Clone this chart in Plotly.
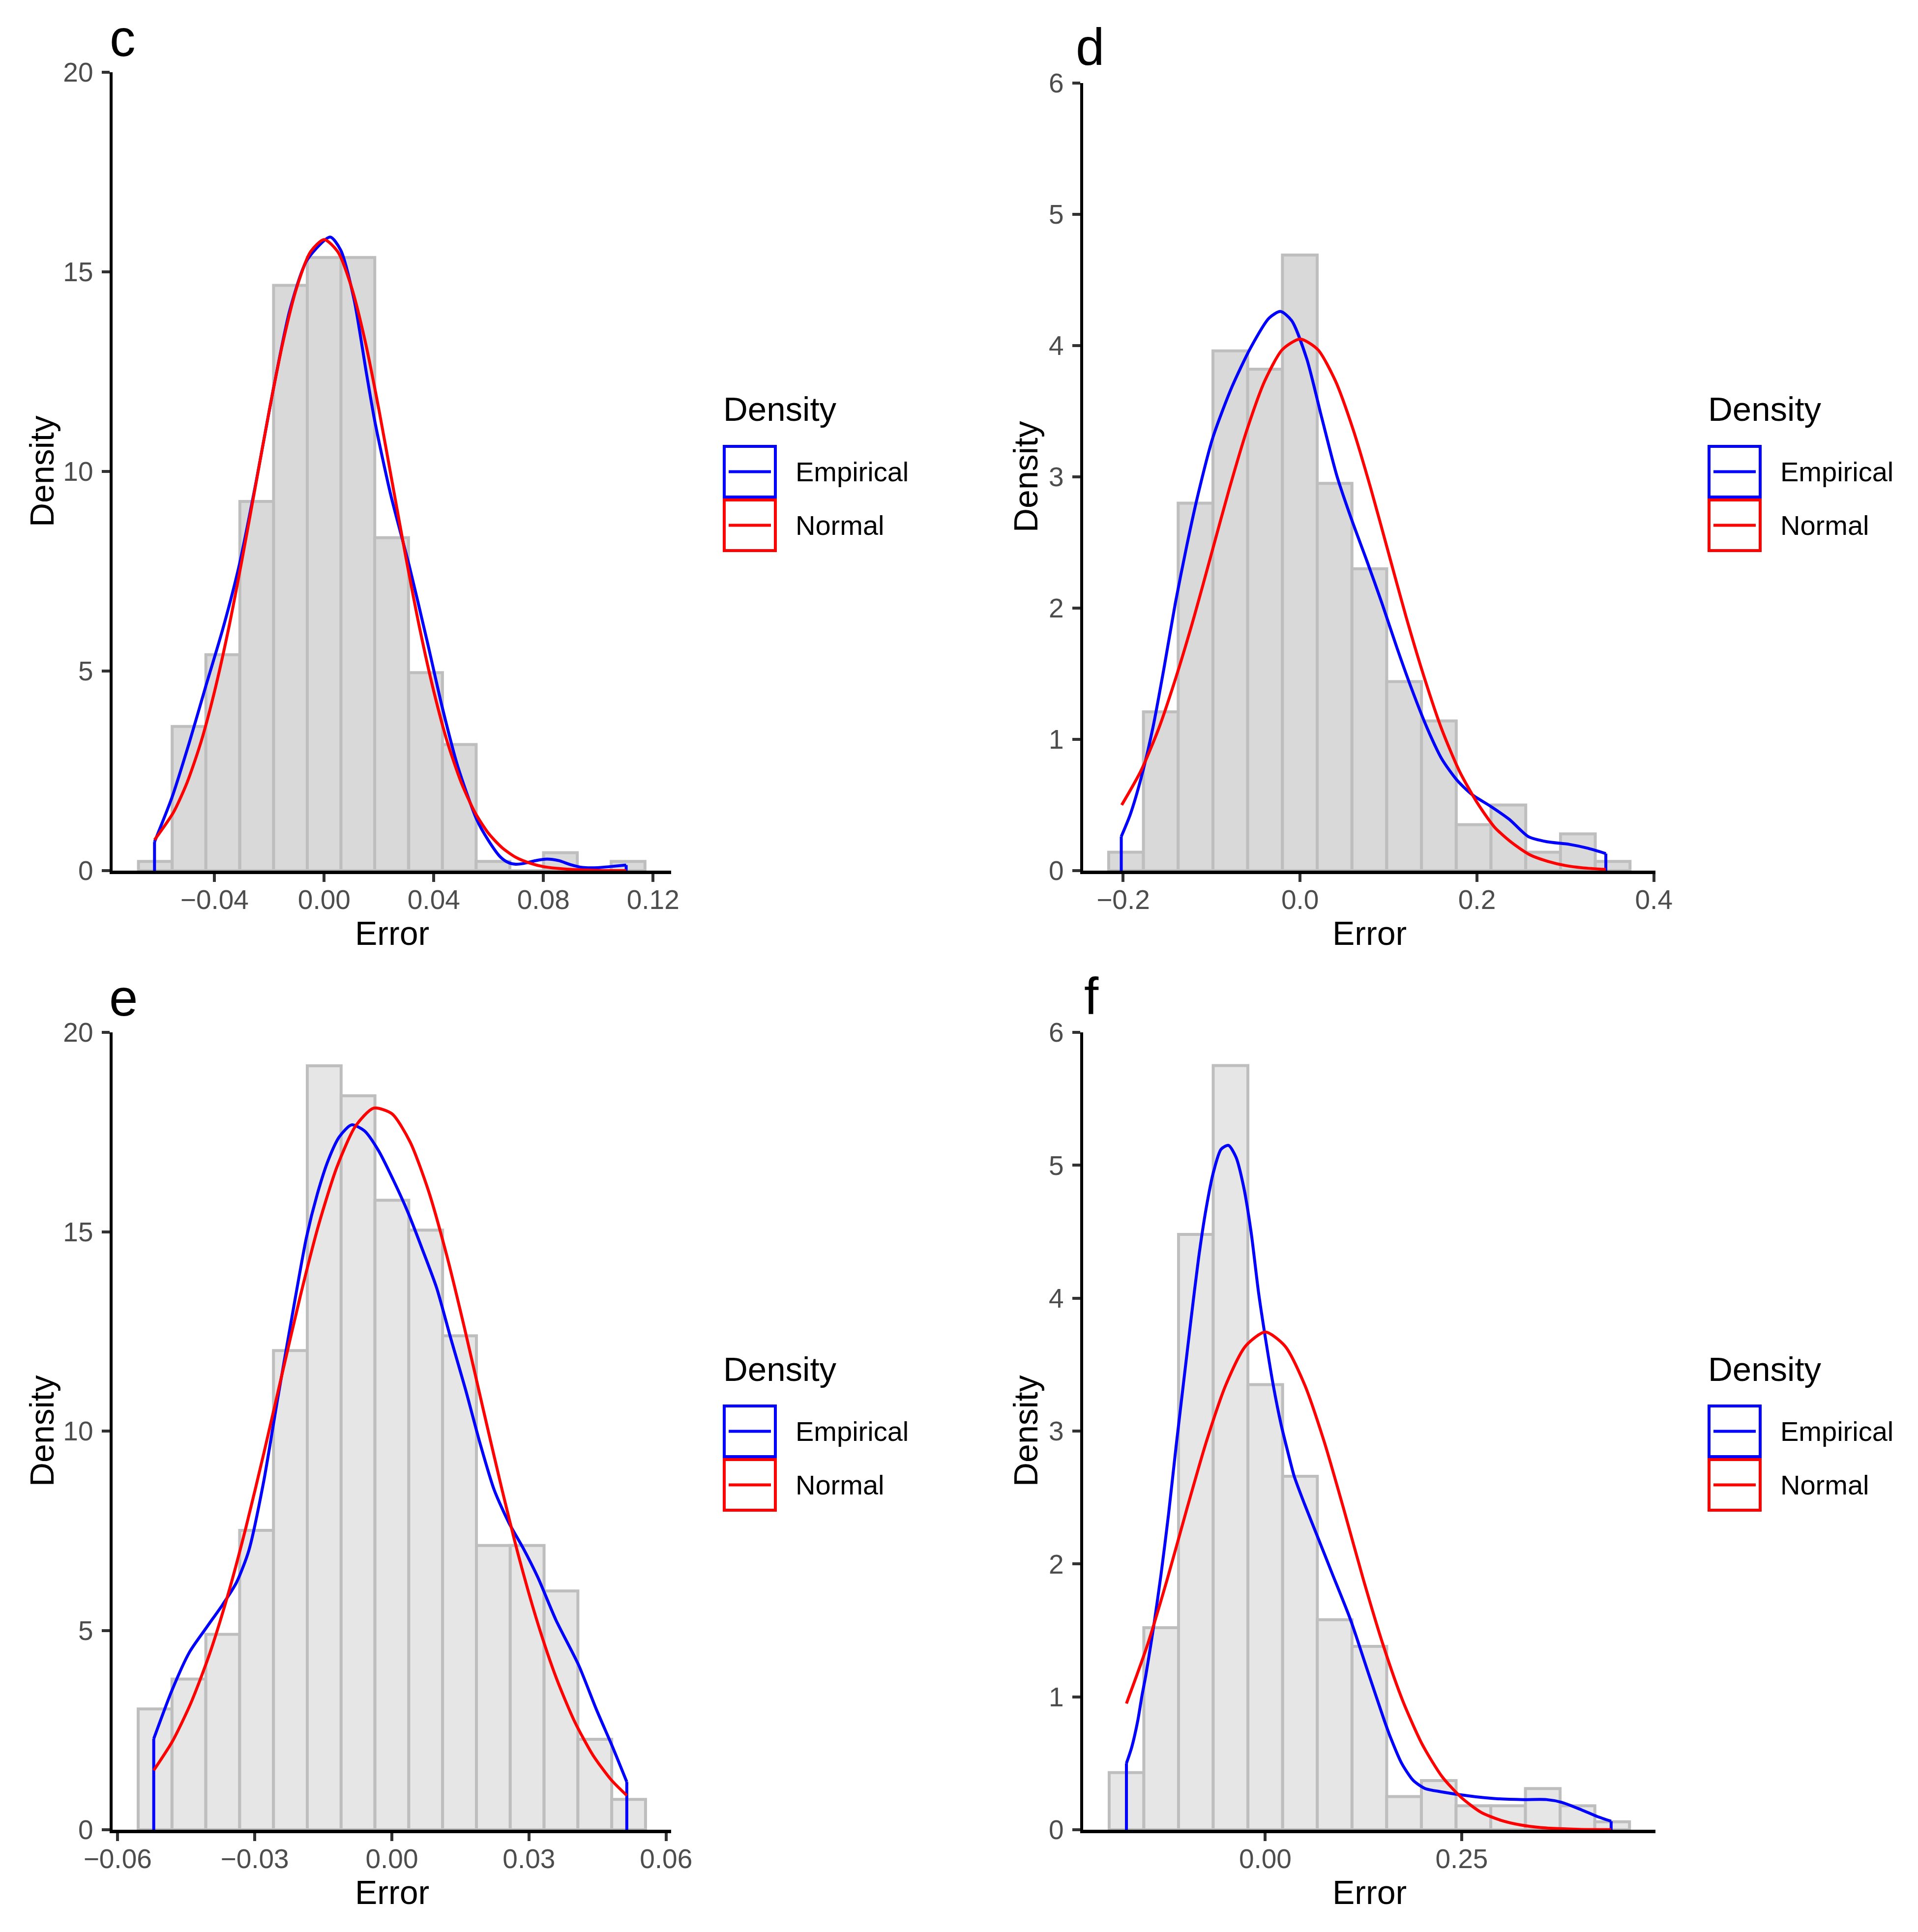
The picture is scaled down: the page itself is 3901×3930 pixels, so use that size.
import plotly.graph_objects as go

W, H = 3901, 3930
FONT = "Liberation Sans, Arial, Helvetica, sans-serif"

# ---------------- data ----------------
# Panel c
c_bin_centers = [-0.0616, -0.0493, -0.0370, -0.0246, -0.0123, 0.0000, 0.0123, 0.0246,
                 0.0370, 0.0493, 0.0616, 0.0739, 0.0862, 0.0986, 0.1109]
c_bin_width = 0.01232
c_density = [0.23, 3.61, 5.41, 9.25, 14.66, 15.36, 15.36, 8.34, 4.96, 3.16, 0.23, 0.0, 0.45, 0.0, 0.23]
c_emp_x = [-0.0619, -0.0555, -0.0492, -0.0432, -0.0370, -0.0310, -0.0247, -0.0187, -0.0125, -0.0062,
           0.0022, 0.0060, 0.0109, 0.0154, 0.0185, 0.0243, 0.0310, 0.0376, 0.0432, 0.0488,
           0.0556, 0.0599, 0.0642, 0.0670, 0.0699, 0.0728, 0.0771, 0.0813, 0.0856, 0.0899, 0.0942,
           0.0999, 0.1042, 0.1102]
c_emp_y = [0.72, 1.84, 3.21, 4.62, 6.05, 7.65, 9.79, 12.01, 14.05, 15.30, 15.87, 15.55, 14.31,
           12.47, 11.25, 9.41, 7.65, 5.74, 4.06, 2.60, 1.29, 0.76, 0.35, 0.21, 0.16, 0.18, 0.25, 0.29,
           0.25, 0.15, 0.08, 0.075, 0.10, 0.14]
c_norm_x = [-0.0619, -0.055, -0.05, -0.045, -0.04, -0.035, -0.03, -0.025, -0.02, -0.015, -0.01, -0.005,
            0.0, 0.005, 0.01, 0.015, 0.02, 0.025, 0.03, 0.035, 0.04, 0.045, 0.05, 0.055, 0.06, 0.065,
            0.07, 0.075, 0.08, 0.09, 0.10, 0.1102]
c_norm_y = [0.77, 1.46, 2.21, 3.21, 4.49, 6.02, 7.78, 9.66, 11.54, 13.25, 14.61, 15.50, 15.81, 15.50,
            14.61, 13.25, 11.54, 9.66, 7.78, 6.02, 4.49, 3.21, 2.21, 1.46, 0.93, 0.57, 0.33, 0.19, 0.10,
            0.03, 0.006, 0.001]
c_xticks = [-0.04, 0.0, 0.04, 0.08, 0.12]
c_xticklabels = ["\u22120.04", "0.00", "0.04", "0.08", "0.12"]
c_yticks = [0, 5, 10, 15, 20]

# Panel d
d_bin_centers = [-0.1968, -0.1575, -0.1182, -0.0789, -0.0396, -0.0003, 0.0390, 0.0783, 0.1176,
                 0.1569, 0.1962, 0.2355, 0.2748, 0.3141, 0.3534]
d_bin_width = 0.0393
d_density = [0.14, 1.21, 2.80, 3.96, 3.82, 4.69, 2.95, 2.30, 1.44, 1.14, 0.35, 0.50, 0.14, 0.28, 0.07]
d_emp_x = [-0.2022, -0.1919, -0.1792, -0.1664, -0.1537, -0.1410, -0.1283, -0.1156, -0.0986, -0.0774,
           -0.0562, -0.0350, -0.0222, -0.0095, 0.0075, 0.0245, 0.0415, 0.0585, 0.0755, 0.0924, 0.1094,
           0.1264, 0.1434, 0.1603, 0.1773, 0.1943, 0.2155, 0.2367, 0.2579, 0.2792, 0.3046, 0.3258, 0.3457]
d_emp_y = [0.26, 0.43, 0.72, 1.09, 1.55, 2.04, 2.47, 2.86, 3.30, 3.68, 3.98, 4.21, 4.26, 4.19, 3.90,
           3.45, 3.01, 2.67, 2.36, 2.04, 1.70, 1.38, 1.09, 0.85, 0.69, 0.58, 0.49, 0.39, 0.26, 0.22,
           0.20, 0.17, 0.13]
d_norm_x = [-0.2017, -0.18, -0.16, -0.14, -0.12, -0.10, -0.08, -0.06, -0.04, -0.02, 0.0, 0.02, 0.04,
            0.06, 0.08, 0.10, 0.12, 0.14, 0.16, 0.18, 0.20, 0.22, 0.24, 0.26, 0.28, 0.30, 0.32, 0.3457]
d_norm_y = [0.50, 0.76, 1.08, 1.48, 1.93, 2.42, 2.91, 3.36, 3.73, 3.97, 4.05, 3.97, 3.73, 3.36, 2.91,
            2.42, 1.93, 1.48, 1.08, 0.76, 0.52, 0.33, 0.21, 0.12, 0.071, 0.039, 0.021, 0.009]
d_xticks = [-0.2, 0.0, 0.2, 0.4]
d_xticklabels = ["\u22120.2", "0.0", "0.2", "0.4"]
d_yticks = [0, 1, 2, 3, 4, 5, 6]

# Panel e
e_bin_centers = [-0.0518, -0.0444, -0.0370, -0.0296, -0.0222, -0.0148, -0.0074, 0.0000, 0.0074,
                 0.0148, 0.0222, 0.0296, 0.0370, 0.0444, 0.0518]
e_bin_width = 0.0074
e_density = [3.03, 3.78, 4.90, 7.51, 12.02, 19.16, 18.41, 15.79, 15.04, 12.39, 7.13, 7.13, 5.99, 2.27, 0.76]
e_emp_x = [-0.0521, -0.0481, -0.0443, -0.0407, -0.0370, -0.0340, -0.0313, -0.0281, -0.0250, -0.0218,
           -0.0187, -0.0163, -0.0139, -0.0115, -0.0088, -0.0060, -0.0029, 0.0003, 0.0035, 0.0066,
           0.0098, 0.0129, 0.0161, 0.0193, 0.0224, 0.0256, 0.0287, 0.0319, 0.0359, 0.0409, 0.0447,
           0.0482, 0.0514]
e_emp_y = [2.28, 3.50, 4.45, 5.05, 5.65, 6.20, 7.00, 8.70, 10.80, 12.90, 14.85, 15.95, 16.80, 17.38,
           17.68, 17.53, 17.03, 16.30, 15.49, 14.58, 13.59, 12.32, 11.05, 9.69, 8.52, 7.70, 7.07, 6.34,
           5.26, 4.12, 3.03, 2.10, 1.20]
e_norm_x = [-0.0521, -0.048, -0.044, -0.040, -0.036, -0.032, -0.028, -0.024, -0.020, -0.016, -0.012,
            -0.008, -0.004, 0.000, 0.004, 0.008, 0.012, 0.016, 0.020, 0.024, 0.028, 0.032, 0.036, 0.040,
            0.044, 0.048, 0.0514]
e_norm_y = [1.49, 2.22, 3.17, 4.37, 5.84, 7.55, 9.45, 11.44, 13.40, 15.18, 16.63, 17.64, 18.10, 17.96,
            17.25, 16.03, 14.41, 12.53, 10.54, 8.58, 6.75, 5.15, 3.80, 2.71, 1.87, 1.25, 0.86]
e_xticks = [-0.06, -0.03, 0.0, 0.03, 0.06]
e_xticklabels = ["\u22120.06", "\u22120.03", "0.00", "0.03", "0.06"]
e_yticks = [0, 5, 10, 15, 20]

# Panel f
f_bin_centers = [-0.1766, -0.1325, -0.0883, -0.0442, 0.0000, 0.0442, 0.0883, 0.1325, 0.1766, 0.2208,
                 0.2649, 0.3091, 0.3532, 0.3974, 0.4415]
f_bin_width = 0.04415
f_density = [0.43, 1.52, 4.48, 5.75, 3.35, 2.66, 1.58, 1.38, 0.25, 0.37, 0.18, 0.18, 0.31, 0.18, 0.06]
f_emp_x = [-0.1767, -0.1700, -0.1623, -0.1572, -0.1518, -0.1423, -0.1327, -0.1232, -0.1136, -0.1041,
           -0.0945, -0.0849, -0.0754, -0.0659, -0.0563, -0.0468, -0.0372, -0.0276, -0.0181, -0.0085,
           0.0010, 0.0106, 0.0201, 0.0297, 0.0368, 0.0500, 0.0669, 0.0850, 0.1085, 0.1300, 0.1516,
           0.1587, 0.1736, 0.1885, 0.2035, 0.2235, 0.2584, 0.2933, 0.3282, 0.3578, 0.3775, 0.4024,
           0.4224, 0.4402]
f_emp_y = [0.50, 0.62, 0.82, 1.00, 1.17, 1.52, 1.92, 2.37, 2.88, 3.36, 3.84, 4.30, 4.67, 4.95, 5.12,
           5.15, 5.06, 4.84, 4.50, 4.04, 3.67, 3.33, 3.05, 2.82, 2.66, 2.45, 2.20, 1.93, 1.58, 1.20,
           0.82, 0.705, 0.50, 0.37, 0.31, 0.286, 0.255, 0.234, 0.227, 0.227, 0.206, 0.15, 0.10, 0.064]
f_norm_x = [-0.1767, -0.15, -0.125, -0.10, -0.075, -0.05, -0.025, 0.0, 0.025, 0.05, 0.075, 0.10, 0.125,
            0.15, 0.175, 0.20, 0.225, 0.25, 0.275, 0.30, 0.325, 0.35, 0.375, 0.40, 0.4402]
f_norm_y = [0.95, 1.39, 1.88, 2.41, 2.92, 3.35, 3.64, 3.745, 3.64, 3.35, 2.92, 2.41, 1.88, 1.39, 0.97,
            0.64, 0.40, 0.24, 0.13, 0.071, 0.036, 0.017, 0.008, 0.003, 0.001]
f_xticks = [0.0, 0.25]
f_xticklabels = ["0.00", "0.25"]
f_yticks = [0, 1, 2, 3, 4, 5, 6]

panel_letters = ["c", "d", "e", "f"]
legend_title = "Density"
legend_labels = ["Empirical", "Normal"]
x_title = "Error"
y_title = "Density"

# ---------------- styling / layout ----------------
BLUE = "#0000FF"
RED = "#FF0000"
OUTLINE = "#BEBEBE"
LW_AXIS = 6.5
LW_CURVE = 6
LW_BAR = 6


def px_x(x):
    return x / W


def px_y(y):
    return 1 - y / H


panels = [
    dict(bins=c_bin_centers, bw=c_bin_width, dens=c_density, fill="#D9D9D9",
         ex=c_emp_x, ey=c_emp_y, nx=c_norm_x, ny=c_norm_y,
         xr=[-0.0772, 0.1266], yr=[0, 20], xt=c_xticks, xl=c_xticklabels, yt=c_yticks,
         box=(229, 1365, 147, 1771), row_c=959, leg_x=1473, ytitle_x=85,
         letter_xy=(221, 77)),
    dict(bins=d_bin_centers, bw=d_bin_width, dens=d_density, fill="#D9D9D9",
         ex=d_emp_x, ey=d_emp_y, nx=d_norm_x, ny=d_norm_y,
         xr=[-0.2453, 0.4018], yr=[0, 6], xt=d_xticks, xl=d_xticklabels, yt=d_yticks,
         box=(2203, 3367, 169, 1771), row_c=959, leg_x=3476, ytitle_x=2086,
         letter_xy=(2186, 96)),
    dict(bins=e_bin_centers, bw=e_bin_width, dens=e_density, fill="#E6E6E6",
         ex=e_emp_x, ey=e_emp_y, nx=e_norm_x, ny=e_norm_y,
         xr=[-0.0611, 0.0611], yr=[0, 20], xt=e_xticks, xl=e_xticklabels, yt=e_yticks,
         box=(229, 1365, 2100, 3722), row_c=2911, leg_x=1473, ytitle_x=85,
         letter_xy=(220, 2029)),
    dict(bins=f_bin_centers, bw=f_bin_width, dens=f_density, fill="#E6E6E6",
         ex=f_emp_x, ey=f_emp_y, nx=f_norm_x, ny=f_norm_y,
         xr=[-0.2318, 0.4966], yr=[0, 6], xt=f_xticks, xl=f_xticklabels, yt=f_yticks,
         box=(2203, 3367, 2100, 3722), row_c=2911, leg_x=3476, ytitle_x=2086,
         letter_xy=(2203, 2026)),
]

fig = go.Figure()
layout = dict(
    width=W, height=H,
    margin=dict(l=0, r=0, t=0, b=0, pad=0),
    paper_bgcolor="white", plot_bgcolor="white",
    showlegend=False,
    font=dict(family=FONT, color="black"),
)
annotations = []
shapes = []

for i, p in enumerate(panels):
    n = i + 1
    xa = "x" if n == 1 else f"x{n}"
    ya = "y" if n == 1 else f"y{n}"
    x0, x1, y0, y1 = p["box"]

    fig.add_trace(go.Bar(
        x=p["bins"], y=p["dens"], width=p["bw"],
        marker=dict(color=p["fill"], line=dict(color=OUTLINE, width=LW_BAR)),
        xaxis=xa, yaxis=ya, hoverinfo="skip"))
    # vertical end legs of the empirical density
    fig.add_trace(go.Scatter(
        x=[p["ex"][0], p["ex"][0], None, p["ex"][-1], p["ex"][-1]],
        y=[0, p["ey"][0], None, p["ey"][-1], 0],
        mode="lines", line=dict(color=BLUE, width=LW_CURVE),
        xaxis=xa, yaxis=ya, hoverinfo="skip"))
    fig.add_trace(go.Scatter(
        x=p["ex"], y=p["ey"], mode="lines",
        line=dict(color=BLUE, width=LW_CURVE, shape="spline", smoothing=0.7),
        xaxis=xa, yaxis=ya, hoverinfo="skip"))
    fig.add_trace(go.Scatter(
        x=p["nx"], y=p["ny"], mode="lines",
        line=dict(color=RED, width=LW_CURVE, shape="spline", smoothing=0.7),
        xaxis=xa, yaxis=ya, hoverinfo="skip"))

    axis_common = dict(
        showline=True, linecolor="black", linewidth=LW_AXIS,
        ticks="outside", ticklen=16, tickwidth=6, tickcolor="#333333",
        tickfont=dict(family=FONT, size=55, color="#4D4D4D"),
        showgrid=False, zeroline=False, automargin=False, fixedrange=True,
    )
    layout["xaxis" if n == 1 else f"xaxis{n}"] = dict(
        axis_common, domain=[px_x(x0), px_x(x1)], range=p["xr"],
        anchor=ya, tickmode="array", tickvals=p["xt"], ticktext=p["xl"],
        ticklabelstandoff=-11)
    layout["yaxis" if n == 1 else f"yaxis{n}"] = dict(
        axis_common, domain=[px_y(y1), px_y(y0)], range=p["yr"],
        anchor=xa, tickmode="array", tickvals=p["yt"],
        ticktext=[str(v) for v in p["yt"]], ticklabelstandoff=6)

    # axis titles
    annotations.append(dict(text=x_title, x=px_x((x0 + x1) / 2), y=px_y(y1 + 127),
                            xref="paper", yref="paper", showarrow=False,
                            xanchor="center", yanchor="middle",
                            font=dict(family=FONT, size=68, color="black")))
    annotations.append(dict(text=y_title, x=px_x(p["ytitle_x"]), y=px_y((y0 + y1) / 2),
                            xref="paper", yref="paper", showarrow=False, textangle=-90,
                            xanchor="center", yanchor="middle",
                            font=dict(family=FONT, size=68, color="black")))
    # panel letter
    lx, ly = p["letter_xy"]
    annotations.append(dict(text=panel_letters[i], x=px_x(lx), y=px_y(ly),
                            xref="paper", yref="paper", showarrow=False,
                            xanchor="left", yanchor="middle",
                            font=dict(family=FONT, size=105, color="black")))

    # legend (drawn manually to mimic ggplot keys)
    rc = p["row_c"]
    lgx = p["leg_x"]
    annotations.append(dict(text=legend_title, x=px_x(lgx - 4), y=px_y(rc - 126),
                            xref="paper", yref="paper", showarrow=False,
                            xanchor="left", yanchor="middle",
                            font=dict(family=FONT, size=69, color="black")))
    for k, (lab, col) in enumerate(zip(legend_labels, [BLUE, RED])):
        top = rc - 51 + k * 109
        bot = top + 103
        mid = (top + bot) / 2
        shapes.append(dict(type="rect", xref="paper", yref="paper",
                           x0=px_x(lgx), x1=px_x(lgx + 104), y0=px_y(bot), y1=px_y(top),
                           line=dict(color=col, width=LW_CURVE), fillcolor="rgba(0,0,0,0)"))
        shapes.append(dict(type="line", xref="paper", yref="paper",
                           x0=px_x(lgx + 9), x1=px_x(lgx + 95), y0=px_y(mid), y1=px_y(mid),
                           line=dict(color=col, width=LW_CURVE)))
        annotations.append(dict(text=lab, x=px_x(lgx + 143), y=px_y(mid),
                                xref="paper", yref="paper", showarrow=False,
                                xanchor="left", yanchor="middle",
                                font=dict(family=FONT, size=56, color="black")))

layout["annotations"] = annotations
layout["shapes"] = shapes
fig.update_layout(**layout)

fig.write_html("out.html", include_plotlyjs=True, full_html=True,
               config={"displayModeBar": False, "staticPlot": True},
               post_script="document.body.style.margin='0';document.body.style.overflow='hidden';")
